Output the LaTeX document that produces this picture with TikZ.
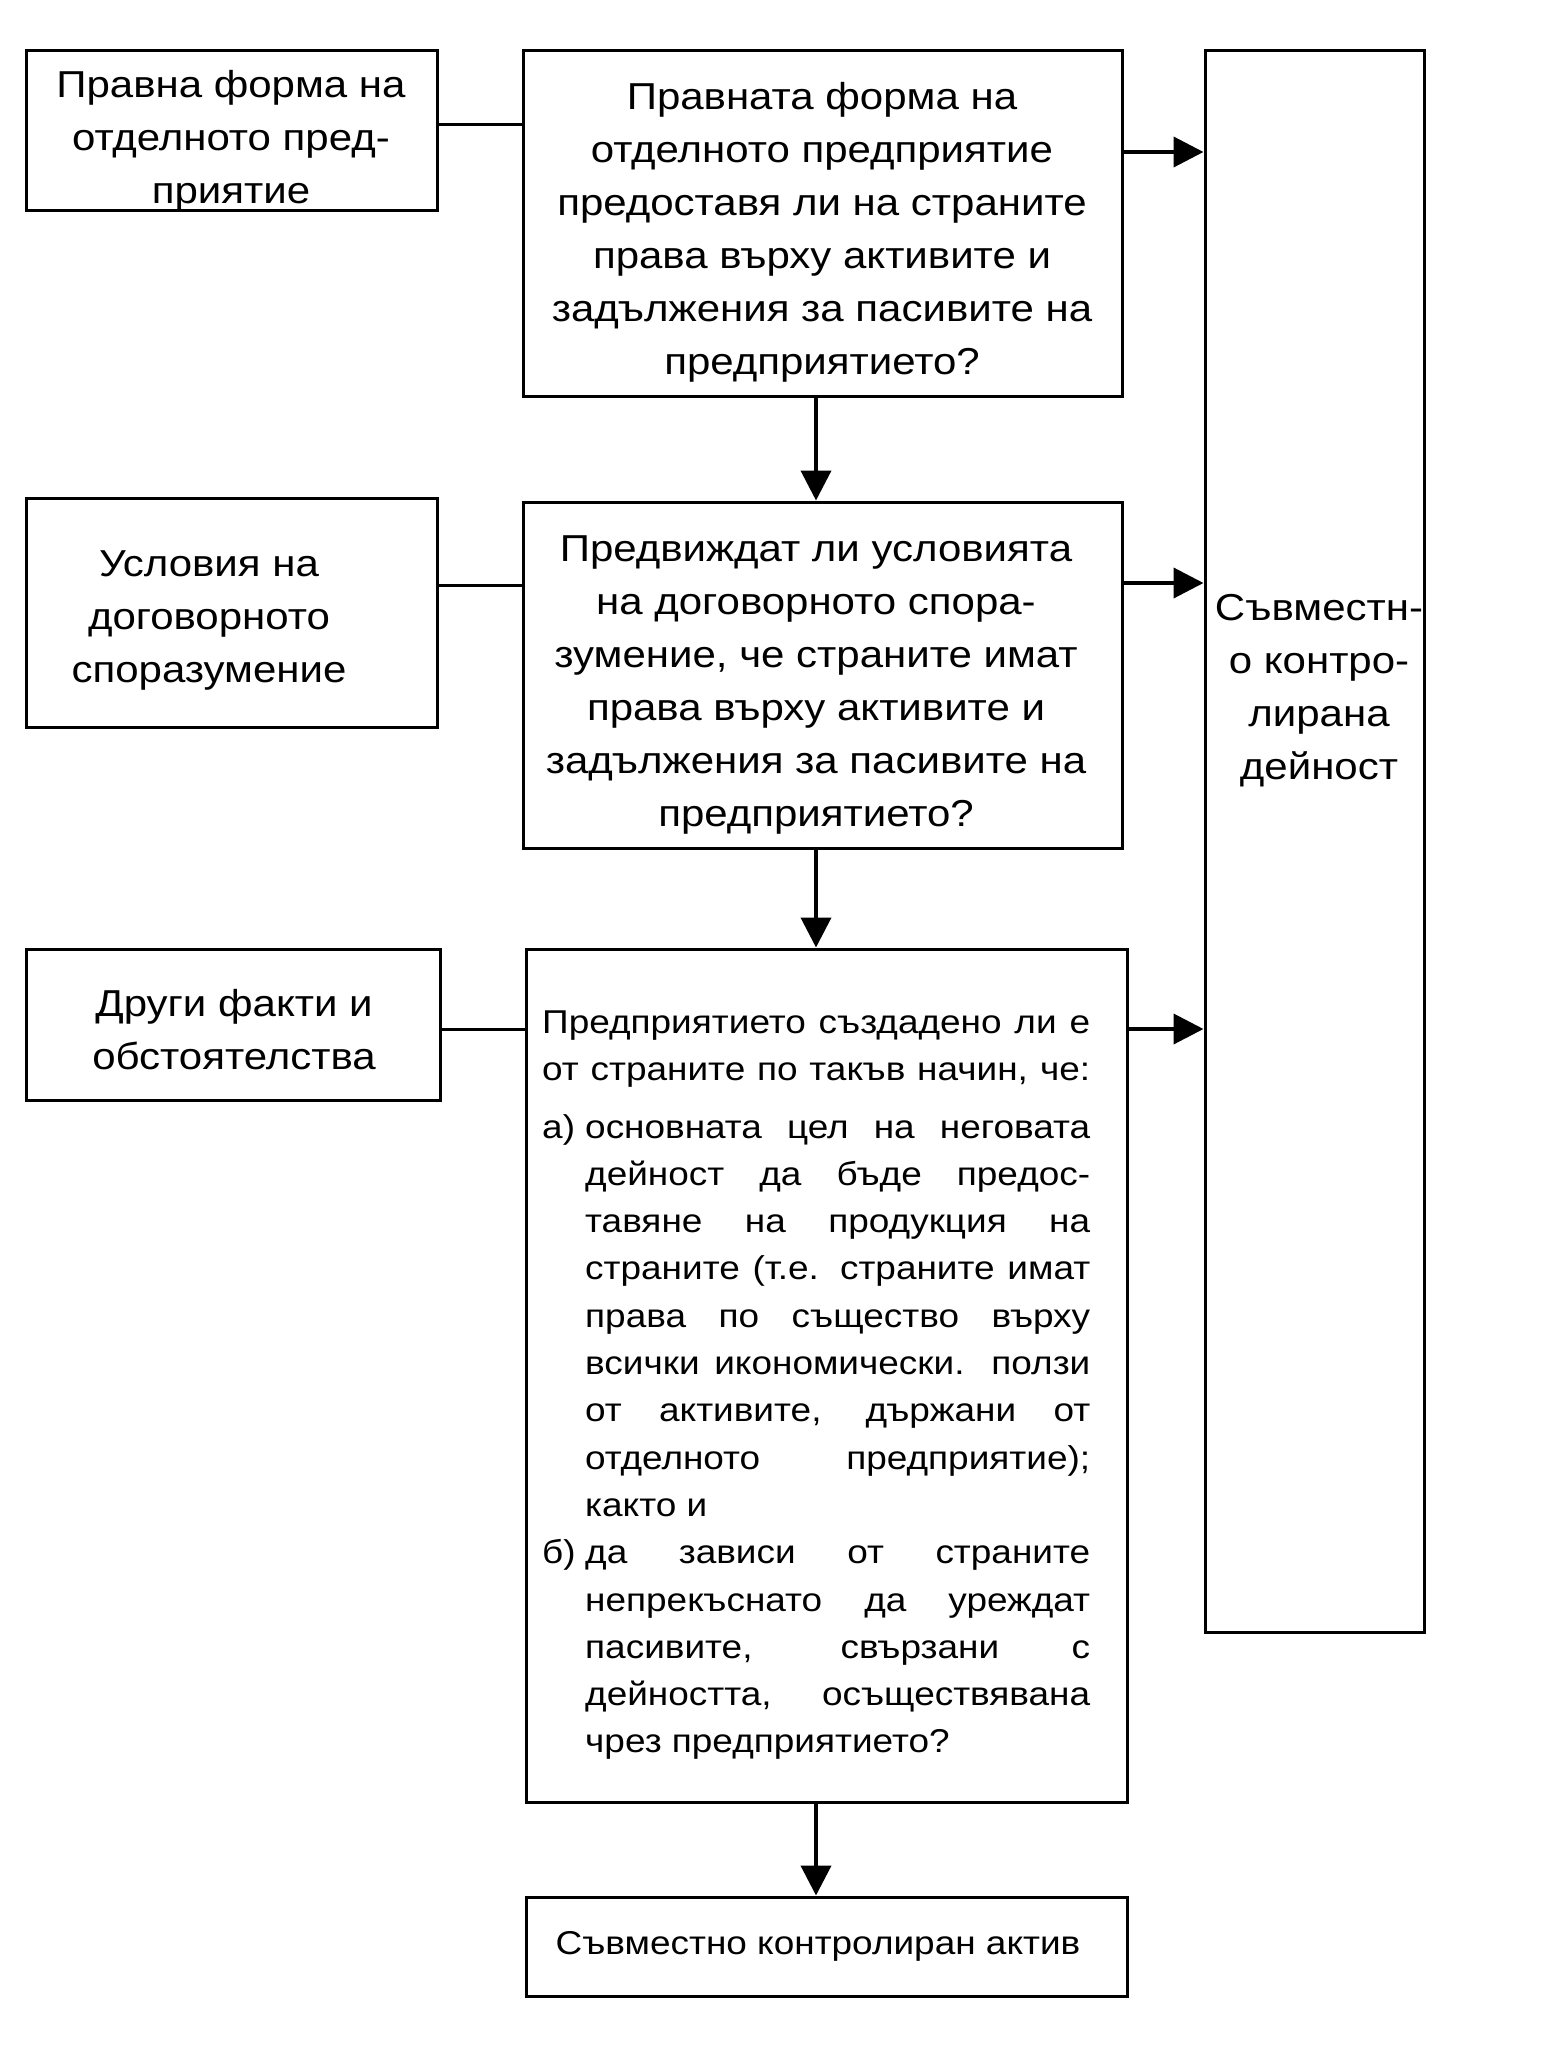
\documentclass[tikz,border=0pt]{standalone}
\usepackage{fontspec}
\setmainfont{Liberation Sans}[FakeStretch=1.12]
\usetikzlibrary{arrows.meta}
\newcommand\myjust[1]{\makebox[505pt][s]{#1}}
\newcommand\myjustfull[1]{\makebox[548pt][s]{#1}}
\begin{document}
\begin{tikzpicture}[x=1pt,y=-1pt,
  box/.style={draw, line width=3pt, inner sep=0pt},
  big/.style={font=\fontsize{37.5}{53}\selectfont, align=center, inner sep=0pt},
  small/.style={font=\fontsize{33}{47.3}\selectfont, inner sep=0pt, anchor=base west},
  conn/.style={line width=3pt},
  arr/.style={line width=4pt, -{Triangle[length=30pt,width=30pt]}}]
\useasboundingbox[fill=white] (0,0) rectangle (1540,2047);

% boxes
\node[box, minimum width=411, minimum height=159] (A) at (231.5,130.5) {};
\node[box, minimum width=599, minimum height=345] (B) at (822.5,223.5) {};
\node[box, minimum width=411, minimum height=229] (C) at (231.5,612.5) {};
\node[box, minimum width=599, minimum height=346] (D) at (822.5,675) {};
\node[box, minimum width=414, minimum height=151] (E) at (233,1024.5) {};
\node[box, minimum width=601, minimum height=853] (F) at (826.5,1375.5) {};
\node[box, minimum width=601, minimum height=99] (G) at (826.5,1946.5) {};
\node[box, minimum width=219, minimum height=1581] (R) at (1314.5,841.5) {};

% texts
\node[big] (At) at (231,141) {Правна форма на\\отделното пред-\\приятие};
\node[big] (Bt) at (822,232) {Правната форма на\\отделното предприятие\\предоставя ли на страните\\права върху активите и\\задължения за пасивите на\\предприятието?};
\node[big] (Ct) at (209,620) {Условия на\\договорното\\споразумение};
\node[big] (Dt) at (816,685) {Предвиждат ли условията\\на договорното спора-\\зумение, че страните имат\\права върху активите и\\задължения за пасивите на\\предприятието?};
\node[big] (Et) at (234,1030) {Други факти и\\обстоятелства};
\node[big] (Rt) at (1319,691) {Съвместн-\\о контро-\\лирана\\дейност};
\node[font=\fontsize{33}{47.3}\selectfont, inner sep=0pt] (Gt) at (818,1946) {Съвместно контролиран актив};

% text of F
\node[small] (f1) at (542,1033) {\myjustfull{Предприятието създадено ли е}};
\node[small] (f2) at (542,1080.3) {\myjustfull{от страните по такъв начин, че:}};
\node[small] (f3a) at (542,1138) {а)};
\node[small] (f3) at (585,1138) {\myjust{основната цел на неговата}};
\node[small] (f4) at (585,1185.3) {\myjust{дейност да бъде предос-}};
\node[small] (f5) at (585,1232.6) {\myjust{тавяне на продукция на}};
\node[small] (f6) at (585,1279.9) {\myjust{страните (т.е. страните имат}};
\node[small] (f7) at (585,1327.2) {\myjust{права по същество върху}};
\node[small] (f8) at (585,1374.5) {\myjust{всички икономически. ползи}};
\node[small] (f9) at (585,1421.8) {\myjust{от активите, държани от}};
\node[small] (f10) at (585,1469.1) {\myjust{отделното предприятие);}};
\node[small] (f11) at (585,1516.4) {както и};
\node[small] (f12a) at (542,1563.7) {б)};
\node[small] (f12) at (585,1563.7) {\myjust{да зависи от страните}};
\node[small] (f13) at (585,1611) {\myjust{непрекъснато да уреждат}};
\node[small] (f14) at (585,1658.3) {\myjust{пасивите, свързани с}};
\node[small] (f15) at (585,1705.6) {\myjust{дейността, осъществявана}};
\node[small] (f16) at (585,1752.9) {чрез предприятието?};

% helper coordinates
\coordinate (yA) at (0,125);
\coordinate (yB) at (0,152);
\coordinate (yC) at (0,585);
\coordinate (yD) at (0,583);
\coordinate (yE) at (0,1029);
\coordinate (xv) at (816,0);

% connectors
\draw[conn] (A.east |- yA) -- (B.west |- yA);
\draw[conn] (C.east |- yC) -- (D.west |- yC);
\draw[conn] (E.east |- yE) -- (F.west |- yE);
\draw[arr] (B.east |- yB) -- (R.west |- yB);
\draw[arr] (D.east |- yD) -- (R.west |- yD);
\draw[arr] (F.east |- yE) -- (R.west |- yE);
\draw[arr] (B.south -| xv) -- (D.north -| xv);
\draw[arr] (D.south -| xv) -- (F.north -| xv);
\draw[arr] (F.south -| xv) -- (G.north -| xv);
\end{tikzpicture}
\end{document}
